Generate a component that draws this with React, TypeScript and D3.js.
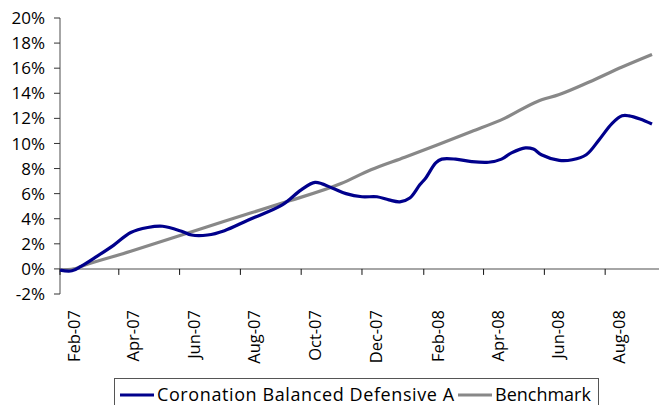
import React, { useEffect, useRef } from 'react';
import * as d3 from 'd3';

// fund series (cumulative return, %)
const fundDates = [
  '2007-02-01', '2007-02-13', '2007-02-22', '2007-03-10', '2007-03-27', '2007-04-13',
  '2007-04-30', '2007-05-15', '2007-06-03', '2007-06-13', '2007-06-29', '2007-07-16',
  '2007-08-09', '2007-09-12', '2007-10-01', '2007-10-15', '2007-11-01', '2007-11-15',
  '2007-12-01', '2007-12-16', '2007-12-28', '2008-01-08', '2008-01-18', '2008-01-28',
  '2008-02-03', '2008-02-13', '2008-02-19', '2008-03-04', '2008-03-20', '2008-04-06',
  '2008-04-19', '2008-04-29', '2008-05-13', '2008-05-21', '2008-05-29', '2008-06-16',
  '2008-06-29', '2008-07-13', '2008-07-26', '2008-08-08', '2008-08-18', '2008-08-25',
  '2008-09-05', '2008-09-17',
];
const fundValues = [
  -0.1, -0.15, 0.2, 1.0, 1.9, 2.9,
  3.3, 3.4, 3.0, 2.7, 2.7, 3.05,
  3.9, 5.1, 6.3, 6.9, 6.45, 6.0,
  5.75, 5.75, 5.5, 5.35, 5.65, 6.7,
  7.25, 8.45, 8.75, 8.75, 8.55, 8.5,
  8.75, 9.25, 9.65, 9.55, 9.1, 8.65,
  8.7, 9.1, 10.3, 11.6, 12.2, 12.2,
  11.95, 11.55,
];

// benchmark series
const benchDates = [
  '2007-02-01', '2007-02-15', '2007-02-22', '2007-04-13', '2007-06-03', '2007-07-16',
  '2007-09-12', '2007-11-10', '2007-12-10', '2008-01-13', '2008-02-15', '2008-03-20',
  '2008-04-22', '2008-05-25', '2008-06-16', '2008-07-16', '2008-08-18', '2008-09-17',
];
const benchValues = [
  -0.1, 0.0, 0.2, 1.4, 2.7, 3.8,
  5.25, 6.8, 7.9, 8.9, 9.9, 10.95,
  12.0, 13.35, 13.9, 14.9, 16.1, 17.1,
];

const yTicks = [-2, 0, 2, 4, 6, 8, 10, 12, 14, 16, 18, 20];
const tickMonths = [
  '2007-02', '2007-04', '2007-06', '2007-08', '2007-10', '2007-12',
  '2008-02', '2008-04', '2008-06', '2008-08',
];
const seriesNames = ['Coronation Balanced Defensive A', 'Benchmark'];
const seriesColors = ['#00008c', '#888888'];

const parse = d3.timeParse('%Y-%m-%d');
const fmt = d3.timeFormat('%b-%y');

const App: React.FC = () => {
  const svgRef = useRef<SVGSVGElement | null>(null);

  useEffect(() => {
    if (!svgRef.current) return;
    const width = 659;
    const height = 405;
    const font = '"Open Sans", Lato, sans-serif';

    const svg = d3.select(svgRef.current).attr('width', width).attr('height', height);
    svg.selectAll('*').remove();

    const x = d3
      .scaleTime()
      .domain([parse('2007-02-01')!, parse('2008-09-17')!])
      .range([60, 652]);
    const y = d3.scaleLinear().domain([-2, 20]).range([294, 18]);

    // y axis
    svg.append('line')
      .attr('x1', 60).attr('x2', 60)
      .attr('y1', y(20)).attr('y2', y(-2))
      .attr('stroke', '#888').attr('stroke-width', 1.5);
    const yg = svg.append('g');
    yg.selectAll('line')
      .data(yTicks)
      .enter()
      .append('line')
      .attr('x1', 54).attr('x2', 60)
      .attr('y1', (d) => y(d)).attr('y2', (d) => y(d))
      .attr('stroke', '#333');
    yg.selectAll('text')
      .data(yTicks)
      .enter()
      .append('text')
      .attr('x', 45)
      .attr('y', (d) => y(d))
      .attr('dy', '0.36em')
      .attr('text-anchor', 'end')
      .attr('font-family', font)
      .attr('font-size', 17)
      .attr('fill', '#000')
      .text((d) => `${d}%`);

    // x axis at 0%
    svg.append('line')
      .attr('x1', 60).attr('x2', width)
      .attr('y1', y(0)).attr('y2', y(0))
      .attr('stroke', '#888').attr('stroke-width', 1.5);
    const months = tickMonths.map((m) => parse(m + '-01')!);
    const xg = svg.append('g');
    xg.selectAll('line')
      .data(months)
      .enter()
      .append('line')
      .attr('x1', (d) => x(d)).attr('x2', (d) => x(d))
      .attr('y1', y(0)).attr('y2', y(0) + 6)
      .attr('stroke', '#111');
    xg.selectAll('text')
      .data(months)
      .enter()
      .append('text')
      .attr('transform', (d) => {
        const mid = new Date(d.getFullYear(), d.getMonth(), 15);
        return `translate(${x(mid) + 6},310) rotate(-90)`;
      })
      .attr('text-anchor', 'end')
      .attr('font-family', font)
      .attr('font-size', 16.5)
      .attr('fill', '#000')
      .text((d) => fmt(d));

    // lines
    const line = d3
      .line<[Date, number]>()
      .x((d) => x(d[0]))
      .y((d) => y(d[1]));

    const bench: [Date, number][] = benchDates.map((d, i) => [parse(d)!, benchValues[i]]);
    const fund: [Date, number][] = fundDates.map((d, i) => [parse(d)!, fundValues[i]]);

    svg.append('path')
      .datum(bench)
      .attr('d', line.curve(d3.curveMonotoneX))
      .attr('fill', 'none')
      .attr('stroke', seriesColors[1])
      .attr('stroke-width', 3.2);
    svg.append('path')
      .datum(fund)
      .attr('d', line.curve(d3.curveCatmullRom.alpha(0.5)))
      .attr('fill', 'none')
      .attr('stroke', seriesColors[0])
      .attr('stroke-width', 3.2);

    // legend
    const lg = svg.append('g');
    lg.append('rect')
      .attr('x', 114.5).attr('y', 378.5)
      .attr('width', 484).attr('height', 40)
      .attr('fill', '#fff').attr('stroke', '#555');
    const lx = [120, 458];
    const spacing = [0.6, 0];
    seriesNames.forEach((name, i) => {
      lg.append('line')
        .attr('x1', lx[i]).attr('x2', lx[i] + 34)
        .attr('y1', 395).attr('y2', 395)
        .attr('stroke', seriesColors[i]).attr('stroke-width', 3.2);
      lg.append('text')
        .attr('x', lx[i] + 37)
        .attr('y', 401)
        .attr('font-family', font)
        .attr('font-size', 18)
        .attr('letter-spacing', spacing[i])
        .attr('fill', '#000')
        .text(name);
    });
  }, []);

  return <svg ref={svgRef} style={{ position: 'absolute', left: 0, top: 0 }}></svg>;
};

export default App;
